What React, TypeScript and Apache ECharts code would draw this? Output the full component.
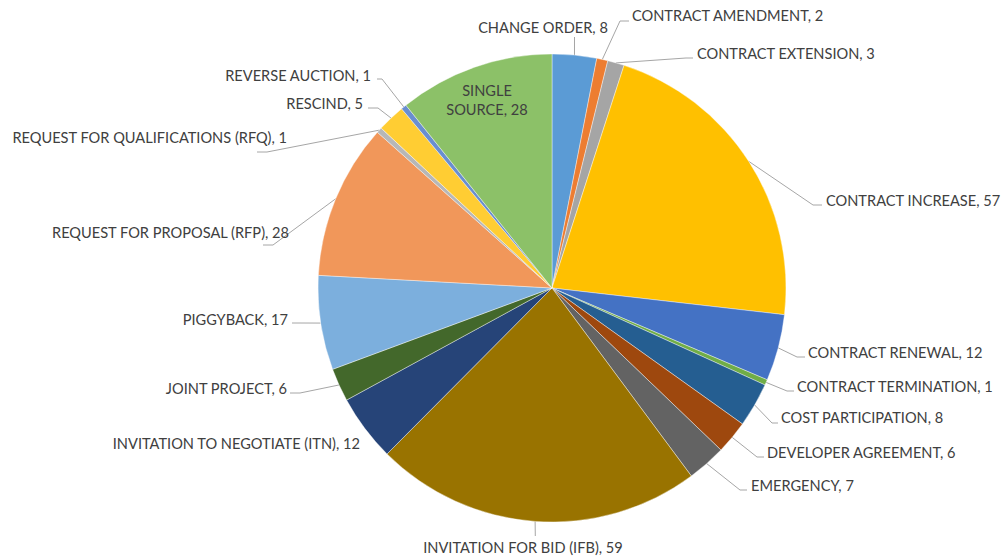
import React, { useEffect, useRef } from "react";
import * as echarts from "echarts";

const categories = [
  "CHANGE ORDER",
  "CONTRACT AMENDMENT",
  "CONTRACT EXTENSION",
  "CONTRACT INCREASE",
  "CONTRACT RENEWAL",
  "CONTRACT TERMINATION",
  "COST PARTICIPATION",
  "DEVELOPER AGREEMENT",
  "EMERGENCY",
  "INVITATION FOR BID (IFB)",
  "INVITATION TO NEGOTIATE (ITN)",
  "JOINT PROJECT",
  "PIGGYBACK",
  "REQUEST FOR PROPOSAL (RFP)",
  "REQUEST FOR QUALIFICATIONS (RFQ)",
  "RESCIND",
  "REVERSE AUCTION",
  "SINGLE SOURCE",
];

const values = [8, 2, 3, 57, 12, 1, 8, 6, 7, 59, 12, 6, 17, 28, 1, 5, 1, 28];

const colors = [
  "#5B9BD5", "#ED7D31", "#A5A5A5", "#FFC000", "#4472C4", "#70AD47",
  "#255E91", "#9E480E", "#636363", "#997300", "#264478", "#43682B",
  "#7CAFDD", "#F1975A", "#B7B7B7", "#FFCD33", "#698ED0", "#8CC168",
];

// label placement: [x, y, align, [elbowX, elbowY, endX, endY] | null]
const labelSpots: Array<[number, number, string, number[] | null]> = [
  [543, 27, "center", [574.5, 37, 574.5, 37]],
  [632, 15, "left", [620, 21, 629, 21]],
  [697, 53, "left", [686, 58, 693, 58]],
  [826, 200, "left", [813, 205, 822, 205]],
  [808, 352, "left", [797, 357, 805, 357]],
  [797, 386, "left", [787, 391, 794, 391]],
  [781, 417, "left", [772, 423, 778, 423]],
  [767, 452, "left", [757, 457, 764, 457]],
  [751, 485, "left", [740, 490, 747, 490]],
  [523, 547, "center", [535.3, 536, 535.3, 536]],
  [360, 443, "right", null],
  [287, 388, "right", [300, 393, 290, 393]],
  [288, 319, "right", [300, 323, 292, 323]],
  [289, 232, "right", [273, 245, 263, 245]],
  [287, 137, "right", [267, 152, 257, 152]],
  [363, 103, "right", [378, 108, 368, 108]],
  [371, 75, "right", [382, 79, 377, 79]],
  [487, 100, "center", null],
];

const CX = 552;
const CY = 288;
const R = 234;

export default function App() {
  const ref = useRef<HTMLDivElement>(null);

  useEffect(() => {
    if (!ref.current) return;
    const chart = echarts.init(ref.current, null, { renderer: "svg" });
    const total = values.reduce((a, b) => a + b, 0);
    const mids: number[] = [];
    let acc = 0;
    values.forEach((v) => {
      mids.push(((acc + v / 2) / total) * Math.PI * 2);
      acc += v;
    });

    const data = categories.map((name, i) => {
      const item: any = {
        name,
        value: values[i],
        itemStyle: { color: colors[i] },
      };
      if (i === categories.length - 1) {
        item.label = { formatter: "SINGLE\nSOURCE, 28", lineHeight: 19, align: "center" };
        item.labelLine = { show: false };
      }
      if (labelSpots[i][3] === null) {
        item.labelLine = { show: false };
      }
      return item;
    });

    chart.setOption({
      animation: false,
      backgroundColor: "#ffffff",
      series: [
        {
          type: "pie",
          center: [CX, CY],
          radius: R,
          startAngle: 90,
          clockwise: true,
          avoidLabelOverlap: false,
          data,
          itemStyle: { borderColor: "#ffffff", borderWidth: 0.4 },
          label: {
            show: true,
            position: "outside",
            formatter: "{b}, {c}",
            color: "#404040",
            fontFamily: "Lato",
            fontSize: 14.6,
          },
          labelLine: {
            show: true,
            lineStyle: { color: "#A6A6A6", width: 1 },
          },
          labelLayout: (params: any) => {
            const i = params.dataIndex;
            const spot = labelSpots[i];
            const res: any = {
              x: spot[0],
              y: spot[1],
              align: spot[2],
              verticalAlign: "middle",
            };
            const ln = spot[3];
            if (ln) {
              const a = mids[i];
              const sx = CX + R * Math.sin(a);
              const sy = CY - R * Math.cos(a);
              res.labelLinePoints = [
                [sx, sy],
                [ln[0], ln[1]],
                [ln[2], ln[3]],
              ];
            }
            return res;
          },
        },
      ],
    });
    return () => chart.dispose();
  }, []);

  return (
    <div
      ref={ref}
      style={{ position: "fixed", left: 0, top: 0, width: 1002, height: 559 }}
    />
  );
}
